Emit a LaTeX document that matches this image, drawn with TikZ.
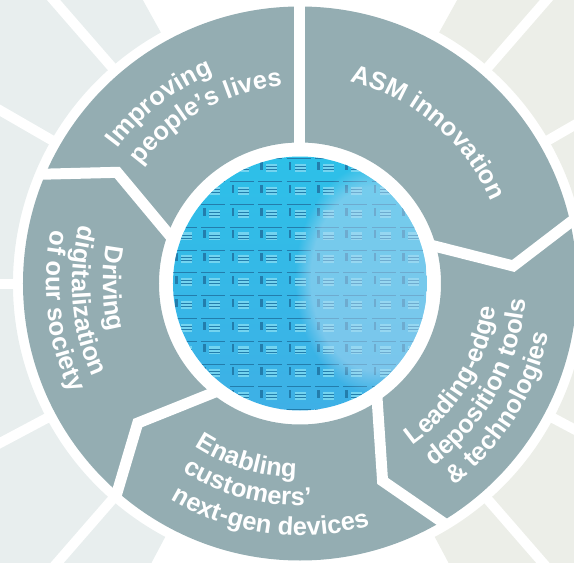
\documentclass[tikz,border=0pt]{standalone}
\usepackage{fontspec}
\setmainfont{Liberation Sans}
\usetikzlibrary{decorations.text,fadings}
\definecolor{ringgray}{RGB}{148,173,178}
\definecolor{paleleft}{RGB}{232,238,238}
\definecolor{paleright}{RGB}{236,238,232}
\definecolor{wafercyan}{RGB}{45,192,232}
\definecolor{waferblue}{RGB}{62,176,230}
\definecolor{chipdark}{RGB}{35,125,172}
\definecolor{chiplight}{RGB}{115,212,240}
\definecolor{glare}{RGB}{185,218,242}
\newcommand{\ringfont}{\fontsize{25.5}{30}\selectfont\bfseries\color{white}}

\begin{document}
\begin{tikzpicture}[x=1pt,y=1pt,
	gap/.style={white,line width=10pt},
	cut/.style={white,line width=11pt,line join=miter},
	ringtext/.style={decorate,decoration={text along path,text align=center,text={|\ringfont|#1}}}]
			\useasboundingbox (-300,-279.5) rectangle (274,283.5);
			\clip (-300,-279.5) rectangle (274,283.5);
			% pale rays
			\fill[paleleft] (119:287) arc (119:242:287) -- (242:700) arc (242:119:700) -- cycle;
			\fill[paleright] (-62:287) arc (-62:61:287) -- (61:700) arc (61:-62:700) -- cycle;
			\foreach \a in {131,150,180,208,229,49,30,0,-28,-49}
				\draw[gap] (\a:280) -- (\a:700);
			% ring of five arrows
			\fill[ringgray,even odd rule] (0,0) circle (277) (0,0) circle (141);
			\draw[cut] (90:130) -- (90:283);
			\foreach \a in {18,-54,-126,-198}
				\draw[cut] (\a:130) -- (\a-13.3:214) -- (\a-4.7:283);
			% wafer
			\begin{scope}
				\clip (0,0) circle (127);
				\shade[top color=wafercyan,bottom color=waferblue] (-127,-127) rectangle (127,127);
				\foreach \i in {-5,...,5}
					\foreach \j in {-6,...,6} {
						\draw[chipdark,line width=.9pt] (28.4*\i-13.3,22.8*\j+10.6) -- ++(24,0);
						\fill[chipdark] (28.4*\i-11.3,22.8*\j+7.6) rectangle ++(2.5,-8);
						\fill[chiplight] (28.4*\i-5.3,22.8*\j+5.6) rectangle ++(11,-8);
						\draw[chipdark,line width=.5pt] (28.4*\i-5.3,22.8*\j+3) -- ++(11,0) (28.4*\i-5.3,22.8*\j) -- ++(11,0);
					}
				\fill[glare,fill opacity=.5,path fading=circle with fuzzy edge 20 percent] (75,5) ellipse (80 and 115);
			\end{scope}
			% labels
			\path[ringtext=Improving] (198:227) arc (198:58:227);
			\path[ringtext=people’s lives] (189.3:198) arc (189.3:49.3:198);
			\path[ringtext=ASM innovation] (119.7:208) arc (119.7:-20.3:208);
			\path[ringtext=Leading-edge] (-101:197) arc (-101:39:197);
			\path[ringtext=deposition tools] (-99:226) arc (-99:41:226);
			\path[ringtext={{\&} technologies}] (-102:254) arc (-102:38:254);
			\path[ringtext=Enabling] (183:194) arc (183:323:194);
			\path[ringtext=customers’] (185.5:222) arc (185.5:325.5:222);
			\path[ringtext=next-gen devices] (192.6:252) arc (192.6:332.6:252);
			\path[ringtext=Driving] (111.5:197) arc (111.5:251.5:197);
			\path[ringtext=digitalization] (114.7:228) arc (114.7:254.7:228);
			\path[ringtext=of our society] (116.7:254) arc (116.7:256.7:254);
		\end{tikzpicture}
\end{document}
